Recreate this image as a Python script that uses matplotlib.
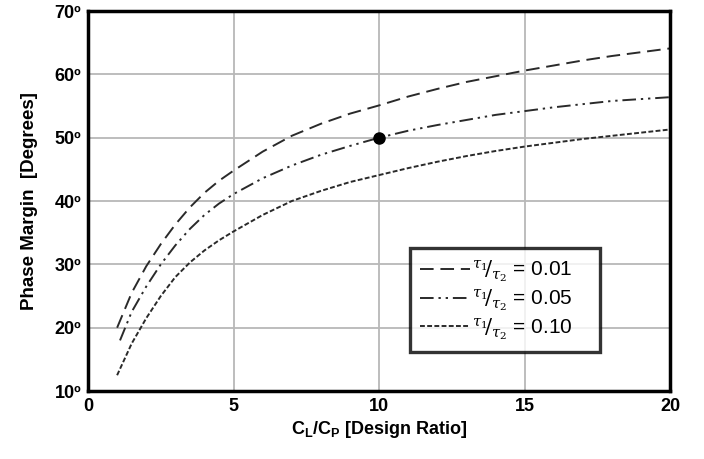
import matplotlib.pyplot as plt

plt.rcParams['font.family'] = ['Liberation Sans', 'DejaVu Sans']
plt.rcParams['mathtext.fontset'] = 'dejavuserif'

# ratio C_L/C_P et marge de phase
x_001 = [1.0, 1.5, 2.0, 2.5, 3.0, 3.5, 4.0, 4.5, 5.0, 6.0, 7.0, 8.0, 9.0, 10.0,
         11.0, 12.0, 13.0, 14.0, 15.0, 16.0, 17.0, 18.0, 19.0, 20.0]
pm_001 = [20.0, 25.5, 29.7, 33.2, 36.3, 39.0, 41.3, 43.2, 44.8, 47.8, 50.3, 52.2,
          53.8, 55.1, 56.5, 57.7, 58.8, 59.7, 60.6, 61.4, 62.2, 62.9, 63.5, 64.1]

x_005 = [1.1, 1.5, 2.0, 2.5, 3.0, 3.5, 4.0, 4.5, 5.0, 6.0, 7.0, 8.0, 9.0, 10.0,
         11.0, 12.0, 13.0, 14.0, 15.0, 16.0, 17.0, 18.0, 19.0, 20.0]
pm_005 = [18.0, 22.5, 26.5, 30.0, 33.0, 35.6, 37.8, 39.6, 41.1, 43.6, 45.6, 47.3,
          48.7, 50.0, 51.1, 52.0, 52.8, 53.6, 54.2, 54.8, 55.3, 55.8, 56.1, 56.4]

x_010 = [1.0, 1.5, 2.0, 2.5, 3.0, 3.5, 4.0, 4.5, 5.0, 6.0, 7.0, 8.0, 9.0, 10.0,
         11.0, 12.0, 13.0, 14.0, 15.0, 16.0, 17.0, 18.0, 19.0, 20.0]
pm_010 = [12.5, 17.5, 21.5, 25.0, 28.0, 30.3, 32.2, 33.8, 35.2, 37.8, 40.0, 41.6,
          43.0, 44.1, 45.2, 46.2, 47.1, 47.9, 48.6, 49.2, 49.8, 50.3, 50.8, 51.3]

design_x = [10]
design_pm = [50]

xticks = [0, 5, 10, 15, 20]
yticks = [10, 20, 30, 40, 50, 60, 70]
ytick_labels = [f"{v}º" for v in yticks]

fig = plt.figure(figsize=(7.04, 4.59), dpi=100)
ax = fig.add_axes([0.125, 0.148, 0.827, 0.828])

col = '#2a2a2a'
ax.plot(x_001, pm_001, color=col, lw=1.4, linestyle=(0, (7, 3.5)),
        label=r'$^{\tau_1}\!/_{\tau_2}$ = 0.01')
ax.plot(x_005, pm_005, color=col, lw=1.4, linestyle=(0, (7, 2.5, 1.2, 2.5, 1.2, 2.5)),
        label=r'$^{\tau_1}\!/_{\tau_2}$ = 0.05')
ax.plot(x_010, pm_010, color=col, lw=1.4, linestyle=(0, (2.5, 1.2)),
        label=r'$^{\tau_1}\!/_{\tau_2}$ = 0.10')
ax.plot(design_x, design_pm, 'o', color='black', markersize=8, zorder=5)

ax.set_xlim(0, 20)
ax.set_ylim(10, 70)
ax.set_xticks(xticks)
ax.set_yticks(yticks)
ax.set_yticklabels(ytick_labels)
ax.grid(True, color='#b8b8b8', lw=1.3)
ax.set_axisbelow(True)
ax.tick_params(length=0, labelsize=13, pad=5)
for lab in ax.get_xticklabels() + ax.get_yticklabels():
    lab.set_fontweight('bold')
for s in ax.spines.values():
    s.set_linewidth(2.5)
    s.set_color('black')

ax.set_xlabel(r'C$_\mathregular{L}$/C$_\mathregular{P}$ [Design Ratio]', fontsize=13,
              fontweight='bold', labelpad=3)
ax.set_ylabel('Phase Margin  [Degrees]', fontsize=13.5, fontweight='bold', labelpad=12)

leg = ax.legend(loc='lower left', bbox_to_anchor=(0.553, 0.103, 0.327, 0.284),
                mode='expand', fontsize=15, frameon=True, fancybox=False,
                handlelength=2.4, handletextpad=0.1, borderpad=0.5,
                labelspacing=0.15, borderaxespad=0)
leg.get_frame().set_edgecolor('black')
leg.get_frame().set_linewidth(2.4)

plt.savefig('out.png', dpi=100)
